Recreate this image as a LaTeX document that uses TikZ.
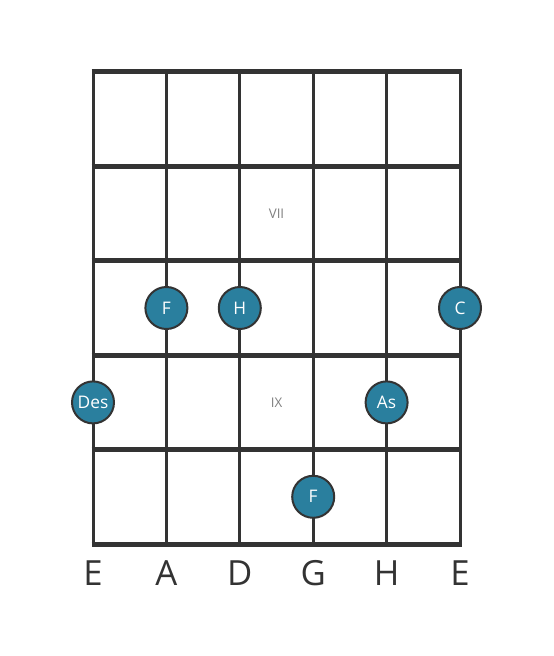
\documentclass[tikz,border=0pt]{standalone}
\usepackage{fontspec}
\setmainfont{Open Sans}
\definecolor{ink}{HTML}{333333}
\definecolor{dotfill}{HTML}{2A7F9E}
\tikzset{
	fret/.style={ink,line width=3.75pt},
	string/.style={ink,line width=2.25pt},
	dot/.style={circle,draw=ink,line width=1.5pt,fill=dotfill,minimum size=31.5pt,inner sep=0pt,text=white,font=\fontsize{13}{13}\selectfont},
	fretnum/.style={text=gray,font=\fontsize{10}{10}\selectfont},
	tuning/.style={text=ink,font=\fontsize{26}{26}\selectfont}
}
\begin{document}
\begin{tikzpicture}[x=0.75pt,y=-0.75pt]
	\def\dx{73.4}	%string spacing
	\def\dy{94.4}	%fret spacing
	\def\xo{93}	%left string
	\def\yo{72}	%top fret
	\useasboundingbox (0,0) rectangle (553,656);
	
	%STRINGS
	\foreach \i in {0,...,5}{
		\draw[string] ({\xo+\i*\dx},\yo)--({\xo+\i*\dx},{\yo+5*\dy});
	}
	%FRETS
	\foreach \j in {0,...,5}{
		\draw[fret] ({\xo-1.5},{\yo+\j*\dy})--({\xo+5*\dx+1.5},{\yo+\j*\dy});
	}
	
	%FRET NUMBERS
	\node[fretnum] (vii) at ({\xo+2.5*\dx},{\yo+1.5*\dy}) {VII};
	\node[fretnum] (ix)  at ({\xo+2.5*\dx},{\yo+3.5*\dy}) {IX};
	
	%NOTES
	\node[dot] (f1)  at ({\xo+1*\dx},{\yo+2.5*\dy}) {F};
	\node[dot] (h)   at ({\xo+2*\dx},{\yo+2.5*\dy}) {H};
	\node[dot] (c)   at ({\xo+5*\dx},{\yo+2.5*\dy}) {C};
	\node[dot] (des) at ({\xo+0*\dx},{\yo+3.5*\dy}) {Des};
	\node[dot] (as)  at ({\xo+4*\dx},{\yo+3.5*\dy}) {As};
	\node[dot] (f2)  at ({\xo+3*\dx},{\yo+4.5*\dy}) {F};
	
	%TUNING
	\foreach \n [count=\i from 0] in {E,A,D,G,H,E}{
		\node[tuning] (s\i) at ({\xo+\i*\dx},573) {\n};
	}
\end{tikzpicture}
\end{document}
